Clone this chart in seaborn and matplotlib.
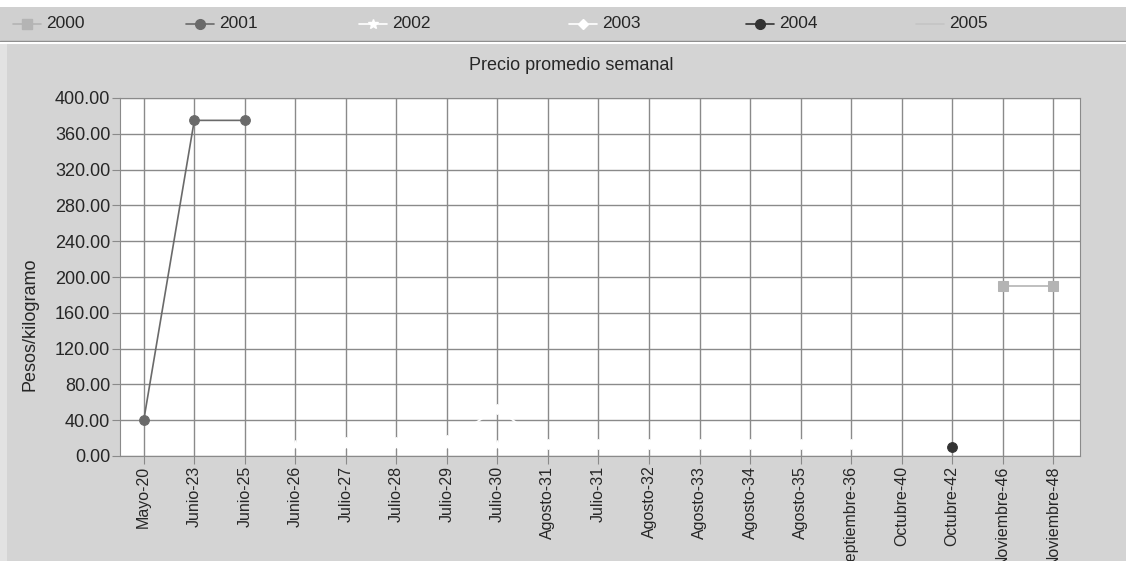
import matplotlib
matplotlib.use("Agg")
import matplotlib.pyplot as plt
from matplotlib.lines import Line2D
from matplotlib.patches import Rectangle
import seaborn as sns
import numpy as np
import pandas as pd

semanas = ["Mayo-20", "Junio-23", "Junio-25", "Junio-26", "Julio-27", "Julio-28",
           "Julio-29", "Julio-30", "Agosto-31", "Julio-31", "Agosto-32", "Agosto-33",
           "Agosto-34", "Agosto-35", "Septiembre-36", "Octubre-40", "Octubre-42",
           "Noviembre-46", "Noviembre-48"]
nan = np.nan
p2000 = [nan] * 17 + [190, 190]
p2001 = [40, 375, 375] + [nan] * 16
p2002 = [nan] * 3 + [12] * 12 + [nan] * 4
p2003 = [nan] * 4 + [16, 16, 18, 52, 13, 13, 13, 13, 13, 13, 13] + [nan] * 4
p2004 = [nan] * 16 + [10] + [nan] * 2
p2005 = [nan] * 19
anios = ["2000", "2001", "2002", "2003", "2004", "2005"]

estilos = {
    "2000": dict(color="#b4b4b4", marker="s", ms=7),
    "2001": dict(color="#6a6a6a", marker="o", ms=7),
    "2002": dict(color="#ffffff", marker="*", ms=7),
    "2003": dict(color="#ffffff", marker="D", ms=5),
    "2004": dict(color="#333333", marker="o", ms=7),
    "2005": dict(color="#c4c4c4", marker="", ms=0),
}

df = pd.DataFrame({"semana": semanas, "2000": p2000, "2001": p2001, "2002": p2002,
                   "2003": p2003, "2004": p2004, "2005": p2005})
df["pos"] = range(len(semanas))
largo = df.melt(id_vars=["semana", "pos"], value_vars=anios, var_name="anio",
                value_name="precio").dropna()

sns.set_style("white")
plt.rcParams["font.family"] = ["Liberation Sans", "DejaVu Sans"]

W, H = 1126, 561
fig = plt.figure(figsize=(W / 100, H / 100), dpi=100, facecolor="#d4d4d4")
ax = fig.add_axes([120 / W, 1 - 456 / H, 960 / W, 358 / H])
ax.set_facecolor("white")

for a in anios:
    sub = largo[largo["anio"] == a]
    if len(sub) == 0:
        continue
    st = estilos[a]
    sns.lineplot(data=sub, x="pos", y="precio", ax=ax, color=st["color"],
                 marker=st["marker"] or None, markersize=st["ms"],
                 markeredgecolor=st["color"], linewidth=1.2, zorder=3,
                 legend=False)

ax.set_xlim(-0.47, len(semanas) - 0.47)
ax.set_ylim(0, 400)
ax.set_xticks(range(len(semanas)))
ax.set_xticklabels(semanas, rotation=90, fontsize=11.5)
ax.set_yticks(np.arange(0, 401, 40))
ax.set_yticklabels([f"{v:.2f}" for v in np.arange(0, 401, 40)], fontsize=13)
ax.grid(True, color="#8a8a8a", linewidth=1)
ax.set_axisbelow(True)
ax.tick_params(axis="both", length=5.5, color="#8a8a8a", direction="out",
               bottom=True, left=True, pad=1.5)
for s in ax.spines.values():
    s.set_color("#8a8a8a")
ax.set_xlabel("")
ax.set_ylabel("")
fig.text(30 / W, 1 - 324 / H, "Pesos/kilogramo", rotation=90, fontsize=13,
         ha="center", va="center")
fig.text(571 / W, 1 - 66 / H, "Precio promedio semanal", fontsize=13,
         ha="center", va="center")

# franja de leyenda
fig.patches.append(Rectangle((0, 1 - 7 / H), 1, 7 / H, transform=fig.transFigure,
                             facecolor="white", edgecolor="none", zorder=0))
fig.patches.append(Rectangle((0, 1 - 41 / H), 1, 34 / H, transform=fig.transFigure,
                             facecolor="#d0d0d0", edgecolor="none", zorder=0))
fig.add_artist(Line2D([0, 1], [1 - 41 / H] * 2, transform=fig.transFigure,
                      color="#8a8a8a", linewidth=1))
fig.add_artist(Line2D([0, 1], [1 - 43 / H] * 2, transform=fig.transFigure,
                      color="white", linewidth=1.5))
fig.patches.append(Rectangle((0, 0), 7 / W, 1 - 43 / H, transform=fig.transFigure,
                             facecolor="#e2e2e2", edgecolor="none", zorder=0))

# entradas de leyenda
centros = [27, 200, 373, 583, 760, 930]
ly = 1 - 24 / H
for a, cx in zip(anios, centros):
    st = estilos[a]
    fig.add_artist(Line2D([(cx - 14) / W, (cx + 14) / W], [ly, ly],
                          transform=fig.transFigure, color=st["color"], linewidth=1.2))
    if st["marker"]:
        fig.add_artist(Line2D([cx / W], [ly], transform=fig.transFigure,
                              color=st["color"], marker=st["marker"],
                              markersize=st["ms"], linestyle="none"))
    fig.text((cx + 19) / W, ly, a, fontsize=12.5, ha="left", va="center")

fig.savefig("out.png", dpi=100, facecolor=fig.get_facecolor())
